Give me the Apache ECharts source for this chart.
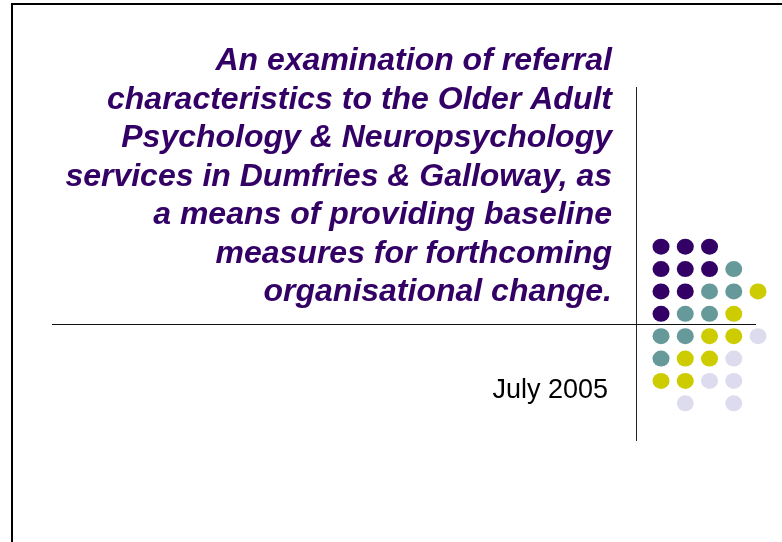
<!DOCTYPE html>
<html>
<head>
<meta charset="utf-8">
<script src="https://cdn.jsdelivr.net/npm/echarts@6/dist/echarts.min.js"></script>
<style>
  html, body { margin: 0; padding: 0; background: #fff; }
  #main { width: 782px; height: 542px; }
</style>
</head>
<body>
<div id="main"></div>
<script>
// slide text
const titleLines = [
  "An examination of referral",
  "characteristics to the Older Adult",
  "Psychology & Neuropsychology",
  "services in Dumfries & Galloway, as",
  "a means of providing baseline",
  "measures for forthcoming",
  "organisational change."
];
const subtitle = "July 2005";

// dot grid: [column, row]
const purpleDots = [[0, 0], [1, 0], [2, 0], [0, 1], [1, 1], [2, 1], [0, 2], [1, 2], [0, 3]];
const tealDots = [[3, 1], [2, 2], [3, 2], [1, 3], [2, 3], [0, 4], [1, 4], [0, 5]];
const yellowDots = [[4, 2], [3, 3], [2, 4], [3, 4], [1, 5], [2, 5], [0, 6], [1, 6]];
const lavenderDots = [[4, 4], [3, 5], [2, 6], [3, 6], [1, 7], [3, 7]];

const DOT_COLORS = ["#330066", "#669999", "#cccc00", "#dcdcee"];
const FONT = "'Liberation Sans', Arial, sans-serif";

const chart = echarts.init(document.getElementById("main"));

const dotSeries = [purpleDots, tealDots, yellowDots, lavenderDots].map((pts, i) => ({
  type: "scatter",
  data: pts,
  symbol: "circle",
  symbolSize: [17, 16],
  itemStyle: { color: DOT_COLORS[i], opacity: 1 },
  silent: true,
  z: 3,
}));

chart.setOption({
  animation: false,
  backgroundColor: "#fff",
  grid: { left: 648.9, top: 235.5, width: 121.25, height: 179 },
  xAxis: { type: "value", min: -0.5, max: 4.5, show: false },
  yAxis: { type: "value", min: -0.5, max: 7.5, inverse: true, show: false },
  graphic: [
    // slide frame
    { type: "line", shape: { x1: 12, y1: 4, x2: 782, y2: 4 }, style: { stroke: "#000", lineWidth: 2 } },
    { type: "line", shape: { x1: 12, y1: 3, x2: 12, y2: 542 }, style: { stroke: "#000", lineWidth: 2 } },
    // divider lines
    { type: "line", shape: { x1: 636.5, y1: 87, x2: 636.5, y2: 441 }, style: { stroke: "#222", lineWidth: 1 } },
    { type: "line", shape: { x1: 52, y1: 324.5, x2: 756, y2: 324.5 }, style: { stroke: "#111", lineWidth: 1 } },
    // title block
    {
      type: "text",
      x: 612,
      y: 42,
      style: {
        text: titleLines.join("\n"),
        align: "right",
        verticalAlign: "top",
        fontFamily: FONT,
        fontSize: 32,
        fontWeight: "bold",
        fontStyle: "italic",
        lineHeight: 38.5,
        fill: "#330066",
      },
    },
    {
      type: "text",
      x: 608,
      y: 391,
      style: {
        text: subtitle,
        align: "right",
        verticalAlign: "middle",
        fontFamily: FONT,
        fontSize: 27,
        fill: "#000",
      },
    },
  ],
  series: dotSeries,
});
</script>
</body>
</html>
